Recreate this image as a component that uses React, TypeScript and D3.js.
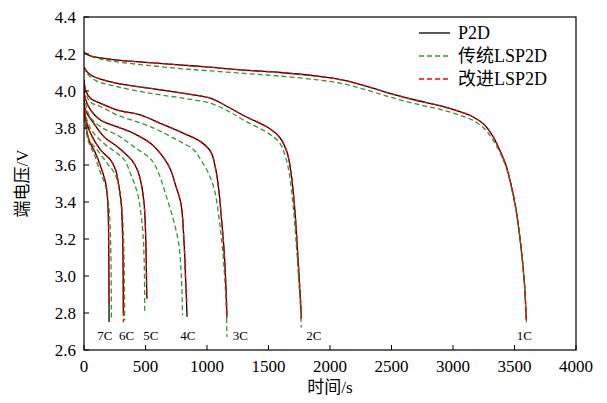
import React from "react";
import * as d3 from "d3";

// 放电曲线数据 [时间 s, 端电压 V]，按倍率分组
const rates = ["1C", "2C", "3C", "4C", "5C", "6C", "7C"];

const p2d1C = [[0,4.21],[50,4.19],[150,4.178],[272,4.167],[500,4.155],[800,4.14],[1000,4.13],[1300,4.113],[1600,4.1],[1900,4.08],[2100,4.06],[2300,4.025],[2500,3.985],[2700,3.95],[2900,3.92],[3050,3.89],[3150,3.865],[3250,3.82],[3320,3.76],[3380,3.68],[3430,3.6],[3470,3.5],[3510,3.37],[3540,3.23],[3565,3.08],[3582,2.95],[3590,2.85],[3595,2.77]];
const p2d2C = [[0,4.13],[30,4.1],[81,4.077],[272,4.041],[543,4.014],[815,3.987],[1032,3.96],[1168,3.915],[1304,3.865],[1490,3.805],[1590,3.75],[1650,3.67],[1685,3.55],[1715,3.35],[1735,3.15],[1752,2.96],[1762,2.85],[1767,2.77]];
const p2d3C = [[0,4.06],[15,4.0],[54,3.96],[136,3.933],[272,3.897],[462,3.87],[625,3.824],[815,3.77],[951,3.725],[1032,3.67],[1070,3.58],[1095,3.47],[1115,3.33],[1135,3.175],[1154,2.941],[1162,2.779]];
const p2d4C = [[0,4.02],[10,3.96],[54,3.897],[136,3.842],[272,3.806],[407,3.77],[543,3.716],[652,3.635],[706,3.572],[740,3.5],[788,3.392],[812,3.2],[828,2.95],[838,2.78]];
const p2d5C = [[0,3.99],[10,3.9],[81,3.824],[163,3.752],[272,3.698],[388,3.626],[435,3.572],[465,3.5],[490,3.38],[503,3.175],[509,2.95],[511,2.878]];
const p2d6C = [[0,3.97],[10,3.86],[54,3.77],[136,3.68],[217,3.626],[258,3.572],[280,3.5],[304,3.38],[315,3.175],[320,2.797]];
const p2d7C = [[0,3.95],[10,3.84],[41,3.734],[95,3.662],[136,3.59],[177,3.5],[194,3.392],[201,3.175],[204,2.751]];

const lsp1C = [[0,4.21],[50,4.19],[150,4.17],[300,4.155],[500,4.14],[800,4.12],[1000,4.11],[1300,4.095],[1600,4.08],[1900,4.06],[2100,4.04],[2300,4.005],[2500,3.965],[2700,3.93],[2900,3.9],[3050,3.87],[3150,3.845],[3250,3.8],[3320,3.74],[3380,3.67],[3430,3.59],[3470,3.49],[3510,3.36],[3540,3.22],[3565,3.07],[3580,2.95],[3590,2.84],[3597,2.75]];
const lsp2C = [[0,4.13],[30,4.09],[100,4.055],[272,4.023],[543,3.987],[815,3.96],[1032,3.933],[1190,3.885],[1304,3.84],[1490,3.775],[1590,3.72],[1640,3.64],[1670,3.55],[1700,3.38],[1725,3.18],[1745,2.98],[1758,2.85],[1766,2.72]];
const lsp3C = [[0,4.06],[15,3.99],[50,3.94],[136,3.915],[272,3.87],[543,3.806],[760,3.734],[896,3.68],[951,3.626],[1005,3.565],[1059,3.47],[1100,3.3],[1130,3.12],[1150,2.92],[1158,2.8],[1162,2.67]];
const lsp4C = [[0,4.02],[10,3.94],[50,3.86],[136,3.806],[272,3.761],[407,3.698],[550,3.626],[610,3.55],[660,3.45],[720,3.32],[770,3.175],[793,2.977],[801,2.788]];
const lsp5C = [[0,3.99],[10,3.88],[60,3.79],[163,3.716],[272,3.662],[330,3.626],[380,3.55],[435,3.446],[475,3.265],[489,3.085],[494,2.806]];
const lsp6C = [[0,3.97],[10,3.84],[40,3.74],[109,3.68],[190,3.608],[244,3.56],[285,3.48],[312,3.34],[326,3.085],[331,2.76]];
const lsp7C = [[0,3.95],[10,3.82],[40,3.72],[81,3.662],[122,3.58],[177,3.48],[204,3.36],[217,3.175],[223,2.76]];

const imp1C = [[0,4.21],[50,4.19],[150,4.178],[272,4.167],[500,4.155],[800,4.14],[1000,4.13],[1300,4.113],[1600,4.1],[1900,4.08],[2100,4.06],[2300,4.025],[2500,3.985],[2700,3.95],[2900,3.92],[3050,3.89],[3150,3.865],[3250,3.82],[3320,3.76],[3380,3.68],[3430,3.6],[3470,3.5],[3510,3.37],[3540,3.23],[3565,3.08],[3582,2.95],[3590,2.85],[3596,2.76]];
const imp2C = [[0,4.13],[30,4.1],[81,4.077],[272,4.041],[543,4.014],[815,3.987],[1032,3.96],[1168,3.915],[1304,3.865],[1490,3.805],[1590,3.75],[1650,3.67],[1685,3.55],[1715,3.35],[1735,3.15],[1752,2.96],[1762,2.85],[1767,2.77]];
const imp3C = [[0,4.06],[15,4.0],[54,3.96],[136,3.933],[272,3.897],[462,3.87],[625,3.824],[815,3.77],[951,3.725],[1032,3.67],[1070,3.58],[1095,3.47],[1115,3.33],[1135,3.175],[1154,2.941],[1162,2.77]];
const imp4C = [[0,4.02],[10,3.96],[54,3.897],[136,3.842],[272,3.806],[407,3.77],[543,3.716],[652,3.635],[706,3.572],[740,3.5],[788,3.392],[812,3.2],[828,2.95],[836,2.86]];
const imp5C = [[0,3.99],[10,3.9],[81,3.824],[163,3.752],[272,3.698],[388,3.626],[435,3.572],[465,3.5],[490,3.38],[503,3.175],[509,2.95],[511,2.878]];
const imp6C = [[0,3.97],[10,3.86],[54,3.77],[136,3.68],[217,3.626],[258,3.572],[280,3.5],[304,3.38],[315,3.175],[320,2.75]];
const imp7C = [[0,3.95],[10,3.84],[41,3.734],[95,3.662],[136,3.59],[177,3.5],[194,3.392],[201,3.175],[203,2.85]];

// 倍率标注所在时间
const rateLabelTimes = [3579, 1868, 1271, 845, 543, 347, 170];
const rateLabelVolt = 2.68;

const xTicks = [0, 500, 1000, 1500, 2000, 2500, 3000, 3500, 4000];
const yTicks = [2.6, 2.8, 3.0, 3.2, 3.4, 3.6, 3.8, 4.0, 4.2, 4.4];

const seriesNames = ["P2D", "传统LSP2D", "改进LSP2D"];

const W = 607, H = 403;
const margin = { left: 84, right: 31, top: 17, bottom: 53 };
const FONT = "Liberation Serif, DejaVu Serif, Noto Sans CJK SC, serif";

const App = () => {
  const x = d3.scaleLinear().domain([0, 4000]).range([margin.left, W - margin.right]);
  const y = d3.scaleLinear().domain([2.6, 4.4]).range([H - margin.bottom, margin.top]);

  const line = d3
    .line<number[]>()
    .x((d) => x(d[0]))
    .y((d) => y(d[1]))
    .curve(d3.curveCatmullRom.alpha(0.5));

  const groups = [
    { name: seriesNames[0], data: [p2d1C, p2d2C, p2d3C, p2d4C, p2d5C, p2d6C, p2d7C], color: "#000", dash: undefined },
    { name: seriesNames[1], data: [lsp1C, lsp2C, lsp3C, lsp4C, lsp5C, lsp6C, lsp7C], color: "#2f9a2f", dash: "5,3" },
    { name: seriesNames[2], data: [imp1C, imp2C, imp3C, imp4C, imp5C, imp6C, imp7C], color: "#ff0000", dash: "5,3" },
  ];

  const x0 = x.range()[0], x1 = x.range()[1];
  const y0 = y.range()[0], y1 = y.range()[1];

  return (
    <svg
      width={W}
      height={H}
      style={{ position: "absolute", left: 0, top: 0, background: "#fff" }}
    >
      <defs>
        <clipPath id="plot">
          <rect x={x0} y={y1} width={x1 - x0} height={y0 - y1} />
        </clipPath>
      </defs>

      {/* 曲线 */}
      <g clipPath="url(#plot)" fill="none">
        {groups.map((g) =>
          g.data.map((d, i) => (
            <path
              key={g.name + i}
              d={line(d as number[][]) || ""}
              stroke={g.color}
              strokeWidth={1.3}
              strokeDasharray={g.dash}
            />
          ))
        )}
      </g>

      {/* 坐标框 */}
      <rect x={x0} y={y1} width={x1 - x0} height={y0 - y1} fill="none" stroke="#000" strokeWidth={1.2} />

      {/* x 轴刻度 */}
      {xTicks.map((t) => (
        <g key={t}>
          <line x1={x(t)} x2={x(t)} y1={y0} y2={y0 - 5} stroke="#000" />
          <text x={x(t)} y={y0 + 22} fontFamily={FONT} fontSize={17} textAnchor="middle">{t}</text>
        </g>
      ))}

      {/* y 轴刻度 */}
      {yTicks.map((v) => (
        <g key={v}>
          <line x1={x0} x2={x0 + 5} y1={y(v)} y2={y(v)} stroke="#000" />
          <text x={x0 - 8} y={y(v)} dy="0.35em" fontFamily={FONT} fontSize={17} textAnchor="end">
            {d3.format(".1f")(v)}
          </text>
        </g>
      ))}

      {/* 倍率标注 */}
      {rates.map((r, i) => (
        <text
          key={r}
          x={x(rateLabelTimes[i])}
          y={y(rateLabelVolt)}
          dy="0.35em"
          fontFamily={FONT}
          fontSize={13}
          textAnchor="middle"
        >
          {r}
        </text>
      ))}

      {/* 轴标题 */}
      <text x={(x0 + x1) / 2} y={393} fontFamily={FONT} fontSize={17} textAnchor="middle">时间/s</text>
      <text
        transform={`translate(22,${(y0 + y1) / 2}) rotate(-90)`}
        fontFamily={FONT}
        fontSize={17}
        textAnchor="middle"
        dy="0.35em"
      >
        端电压/V
      </text>

      {/* 图例 */}
      {groups.map((g, i) => (
        <g key={g.name} transform={`translate(419,${33 + i * 23})`}>
          <line x1={0} x2={31} y1={0} y2={0} stroke={g.color} strokeWidth={1.3} strokeDasharray={g.dash} />
          <text x={39} y={0} dy="0.35em" fontFamily={FONT} fontSize={18}>{g.name}</text>
        </g>
      ))}
    </svg>
  );
};

export default App;
